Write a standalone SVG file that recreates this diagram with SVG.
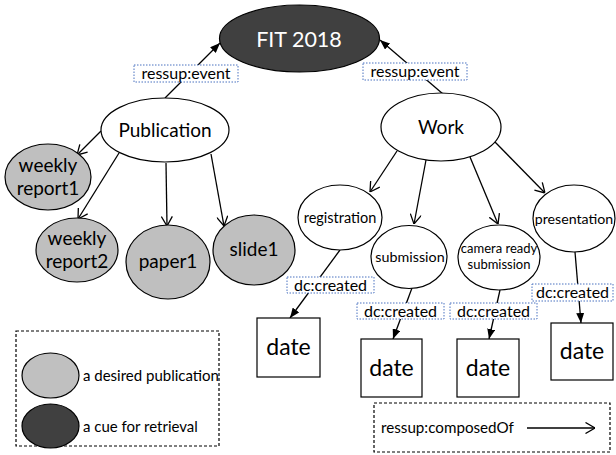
<svg xmlns="http://www.w3.org/2000/svg" width="616" height="455" viewBox="0 0 616 455">
  <style>
    text { font-family: Lato, "Open Sans", "Liberation Sans", sans-serif; fill: #000; text-anchor: middle; }
    .node { fill: #fff; stroke: #000; stroke-width: 1.2; }
    .pub { fill: #bfbfbf; stroke: #000; stroke-width: 1.2; }
    .cue { fill: #404040; stroke: #000; stroke-width: 1.2; }
    .box { fill: #fff; stroke: #000; stroke-width: 1.2; }
    .lbl { fill: #fff; stroke: #4a72c0; stroke-width: 1; stroke-dasharray: 1.5 1.5; }
    .edge { stroke: #000; stroke-width: 1.3; fill: none; }
    .comp { marker-end: url(#open); }
    .prop { marker-end: url(#solid); }
    .legend { fill: none; stroke: #000; stroke-width: 1.2; stroke-dasharray: 3 2; }
  </style>
  <defs>
    <marker id="open" viewBox="0 0 10 12" refX="10" refY="6" markerWidth="10" markerHeight="12" markerUnits="userSpaceOnUse" orient="auto">
      <path d="M0.5,0.5 L10,6 L0.5,11.5" fill="none" stroke="#000" stroke-width="1.3"/>
    </marker>
    <marker id="solid" viewBox="0 0 10 8" refX="10" refY="4" markerWidth="10" markerHeight="8" markerUnits="userSpaceOnUse" orient="auto">
      <path d="M0,0 L10,4 L0,8 z" fill="#000"/>
    </marker>
  </defs>

  <!-- connectors -->
  <g id="connectors">
    <line class="edge prop" x1="165" y1="98" x2="220" y2="43"/>
    <line class="edge prop" x1="443" y1="94" x2="380" y2="40"/>
    <line class="edge comp" x1="101" y1="131" x2="77" y2="155"/>
    <line class="edge comp" x1="119" y1="153" x2="78" y2="219"/>
    <line class="edge comp" x1="166" y1="163" x2="167" y2="226"/>
    <line class="edge comp" x1="211" y1="154" x2="224" y2="226"/>
    <line class="edge comp" x1="397" y1="151" x2="370" y2="192"/>
    <line class="edge comp" x1="426" y1="160" x2="414" y2="224"/>
    <line class="edge comp" x1="470" y1="157" x2="498" y2="224"/>
    <line class="edge comp" x1="495" y1="142" x2="545" y2="193"/>
    <line class="edge prop" x1="340" y1="250" x2="290" y2="318"/>
    <line class="edge prop" x1="412" y1="288" x2="393" y2="339"/>
    <line class="edge prop" x1="500" y1="290" x2="489" y2="339"/>
    <line class="edge prop" x1="575" y1="252" x2="581" y2="323"/>
  </g>

  <!-- edge labels -->
  <g id="edge-labels">
    <rect class="lbl" x="134" y="65" width="104" height="17"/>
    <text x="186" y="79" font-size="16">ressup:event</text>
    <rect class="lbl" x="363" y="63" width="104" height="17"/>
    <text x="415" y="77" font-size="16">ressup:event</text>
    <rect class="lbl" x="287" y="277" width="87" height="16"/>
    <text x="330.5" y="290.5" font-size="16">dc:created</text>
    <rect class="lbl" x="357" y="303" width="87" height="16"/>
    <text x="400.5" y="316.5" font-size="16">dc:created</text>
    <rect class="lbl" x="450" y="303" width="87" height="16"/>
    <text x="493.5" y="316.5" font-size="16">dc:created</text>
    <rect class="lbl" x="532" y="284" width="81" height="17"/>
    <text x="572.5" y="298" font-size="16">dc:created</text>
  </g>

  <g id="fit2018">
    <ellipse class="cue" cx="299.5" cy="38.5" rx="80" ry="33.5"/>
    <text x="299" y="46.5" font-size="21.5" style="fill:#fff">FIT 2018</text>
  </g>
  <g id="publication">
    <ellipse class="node" cx="165" cy="130" rx="64" ry="32"/>
    <text x="165" y="137" font-size="19">Publication</text>
  </g>
  <g id="work">
    <ellipse class="node" cx="441" cy="127" rx="60" ry="34"/>
    <text x="441" y="134" font-size="19">Work</text>
  </g>
  <g id="weekly-report1">
    <ellipse class="pub" cx="48" cy="177" rx="43" ry="33"/>
    <text x="48" y="172" font-size="19">weekly</text>
    <text x="48" y="195" font-size="19">report1</text>
  </g>
  <g id="weekly-report2">
    <ellipse class="pub" cx="77" cy="250" rx="41" ry="32"/>
    <text x="77" y="245" font-size="19">weekly</text>
    <text x="77" y="268" font-size="19">report2</text>
  </g>
  <g id="paper1">
    <ellipse class="pub" cx="168" cy="262" rx="42" ry="37"/>
    <text x="168" y="268" font-size="19">paper1</text>
  </g>
  <g id="slide1">
    <ellipse class="pub" cx="254" cy="250" rx="41" ry="35"/>
    <text x="254" y="256" font-size="19">slide1</text>
  </g>
  <g id="registration">
    <ellipse class="node" cx="340" cy="217.5" rx="42" ry="32.5"/>
    <text x="340" y="222.5" font-size="14.5">registration</text>
  </g>
  <g id="submission">
    <ellipse class="node" cx="409" cy="257" rx="38" ry="31.5"/>
    <text x="410" y="262" font-size="14.3">submission</text>
  </g>
  <g id="camera-ready-submission">
    <ellipse class="node" cx="499" cy="257.5" rx="41" ry="32.5"/>
    <text x="499" y="253" font-size="13">camera ready</text>
    <text x="499" y="269" font-size="13">submission</text>
  </g>
  <g id="presentation">
    <ellipse class="node" cx="574" cy="218.5" rx="41" ry="33.5"/>
    <text x="574" y="223.5" font-size="14.2">presentation</text>
  </g>
  <g id="date1">
    <rect class="box" x="257" y="318" width="63" height="59"/>
    <text x="288.5" y="355" font-size="23">date</text>
  </g>
  <g id="date2">
    <rect class="box" x="361" y="339" width="61" height="58"/>
    <text x="391.5" y="376" font-size="23">date</text>
  </g>
  <g id="date3">
    <rect class="box" x="457" y="339" width="62" height="58"/>
    <text x="488" y="376" font-size="23">date</text>
  </g>
  <g id="date4">
    <rect class="box" x="551" y="323" width="62" height="57"/>
    <text x="582" y="359" font-size="23">date</text>
  </g>

  <!-- legends -->
  <g id="legend-nodes">
    <rect class="legend" x="16" y="331" width="203" height="115"/>
    <ellipse class="pub" cx="50.5" cy="375.5" rx="28.5" ry="22.5" style="fill:#c0c0c0"/>
    <text x="83" y="381" font-size="15" style="text-anchor:start">a desired publication</text>
    <ellipse class="cue" cx="50.5" cy="426" rx="28.5" ry="22"/>
    <text x="83" y="432" font-size="15" style="text-anchor:start">a cue for retrieval</text>
  </g>
  <g id="legend-edge">
    <rect class="legend" x="374" y="403" width="236" height="49"/>
    <text x="381" y="433" font-size="15.2" style="text-anchor:start">ressup:composedOf</text>
    <line class="edge comp" x1="527" y1="428" x2="595" y2="428"/>
  </g>
</svg>
